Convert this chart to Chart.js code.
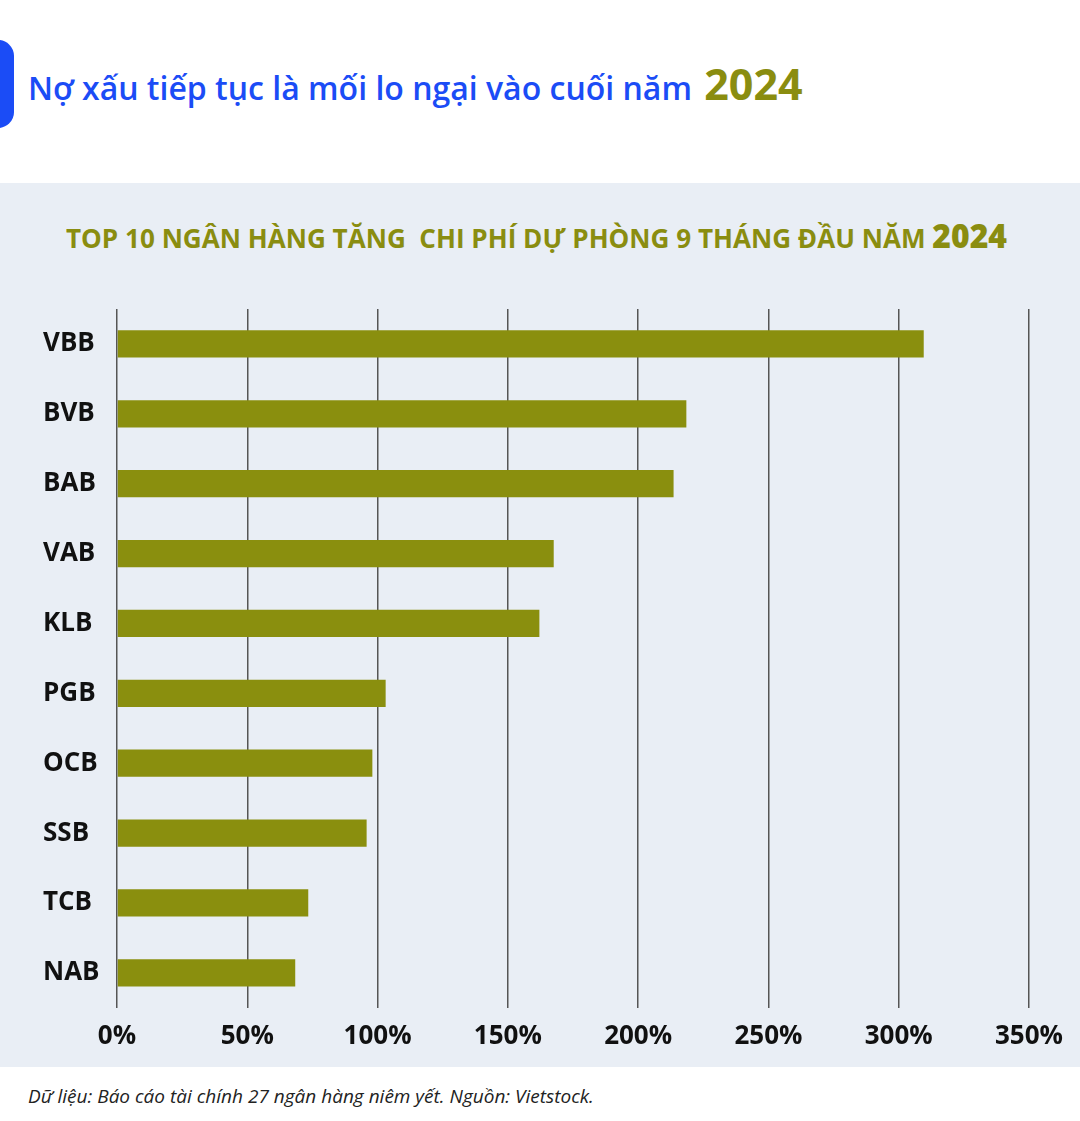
<!DOCTYPE html>
<html lang="vi">
<head>
<meta charset="utf-8">
<script src="https://cdn.jsdelivr.net/npm/chart.js@4.4.1/dist/chart.umd.min.js"></script>
<style>
    html, body { margin: 0; padding: 0; background: #fff; }
    body { width: 1080px; height: 1121px; position: relative; overflow: hidden; font-family: "Open Sans", sans-serif; }
    .marca { position: absolute; left: -30px; top: 40px; width: 44px; height: 88px; background: #1b4cf6; border-radius: 16px; }
    .titulo { position: absolute; left: 28px; top: 54px; white-space: nowrap; color: #1b4cf6; font-weight: 600; font-size: 32px; }
    .titulo b { color: #8a8d10; font-size: 43px; font-weight: 700; margin-left: 4px; }
    .panel { position: absolute; left: 0; top: 183px; width: 1080px; height: 884px; background: #e9eef5; }
    .subtitulo { position: absolute; left: 66px; top: 30px; white-space: nowrap; color: #8a8d10; font-weight: 700; font-size: 27px; transform-origin: left center; }
    .subtitulo b { font-size: 33px; }
    #grafico { position: absolute; left: 0; top: 0; }
    .fuente { position: absolute; left: 28px; top: 1083px; font-style: italic; font-size: 19px; color: #222; white-space: nowrap; }
</style>
</head>
<body>
<div class="marca"></div>
<div class="titulo">Nợ xấu tiếp tục là mối lo ngại vào cuối năm <b>2024</b></div>
<div class="panel">
    <div class="subtitulo" id="subtitulo">TOP 10 NGÂN HÀNG TĂNG&nbsp; CHI PHÍ DỰ PHÒNG 9 THÁNG ĐẦU NĂM <b>2024</b></div>
    <canvas id="grafico" width="1080" height="884"></canvas>
</div>
<div class="fuente">Dữ liệu: Báo cáo tài chính 27 ngân hàng niêm yết. Nguồn: Vietstock.</div>

<script>
const bancos = ['VBB', 'BVB', 'BAB', 'VAB', 'KLB', 'PGB', 'OCB', 'SSB', 'TCB', 'NAB'];
const aumentoProvision = [309.6, 218.5, 213.6, 167.6, 162.1, 103.1, 98.0, 95.8, 73.4, 68.4];
const ticksX = [0, 50, 100, 150, 200, 250, 300, 350];

// Ajustar el subtítulo al ancho del original (fuente condensada)
const sub = document.getElementById('subtitulo');
const anchoSub = sub.getBoundingClientRect().width;
sub.style.transform = 'scaleX(' + (941 / anchoSub) + ')';

function crearGrafico() {
    const canvas = document.getElementById('grafico');
    new Chart(canvas, {
        type: 'bar',
        data: {
            labels: bancos,
            datasets: [{
                data: aumentoProvision,
                backgroundColor: '#8a8f0e',
                categoryPercentage: 0.39,
                barPercentage: 1.0
            }]
        },
        options: {
            indexAxis: 'y',
            responsive: false,
            animation: false,
            layout: { padding: { left: 43, right: 51, top: 126, bottom: 2 } },
            plugins: {
                legend: { display: false },
                tooltip: { enabled: false }
            },
            scales: {
                x: {
                    min: 0,
                    max: 350,
                    afterBuildTicks: (scale) => {
                        scale.ticks = ticksX.map(v => ({ value: v }));
                    },
                    grid: { color: '#555', lineWidth: 1.5, drawTicks: false },
                    border: { display: false },
                    ticks: {
                        padding: 13,
                        color: '#111',
                        font: { family: 'Open Sans', weight: 'bold', size: 26 },
                        callback: (v) => v + '%'
                    }
                },
                y: {
                    afterFit: (scale) => { scale.width = 74; },
                    grid: { display: false },
                    border: { display: false },
                    ticks: {
                        crossAlign: 'far',
                        padding: 0,
                        color: '#111',
                        font: { family: 'Open Sans', weight: 'bold', size: 26 }
                    }
                }
            }
        }
    });
}

crearGrafico();
</script>
</body>
</html>
